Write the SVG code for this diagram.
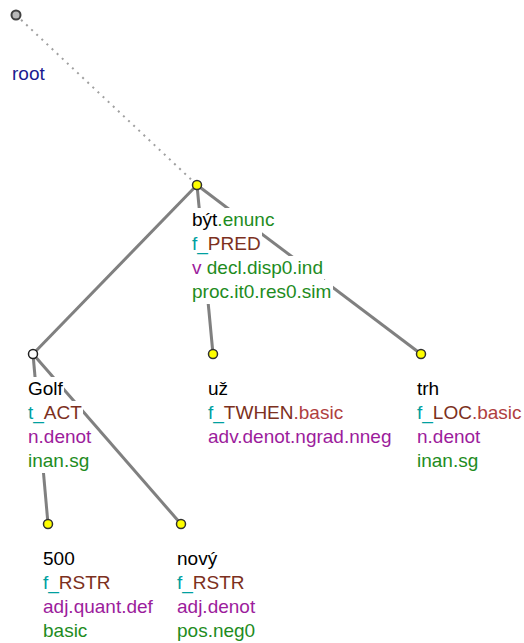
<svg xmlns="http://www.w3.org/2000/svg" width="524" height="643" viewBox="0 0 524 643">
<defs>
<style>
text{font-family:"Liberation Sans",Arial,sans-serif;font-size:19px}
.bg{fill:#ffffff;stroke:none}
.edge{stroke:#808080;stroke-width:3;fill:none}
.dot{stroke:#a0a0a0;stroke-width:2;stroke-dasharray:2 5;fill:none}
.n{fill:#ffff00;stroke:#303030;stroke-width:1.5}
.w{fill:#ffffff;stroke:#202020;stroke-width:1.5}
.r{fill:#b8b8b8;stroke:#404040;stroke-width:2}
.k{fill:#000000}.g{fill:#1e8c1e}.t{fill:#00a0a0}.b{fill:#7c3020}.lb{fill:#b04040}.p{fill:#9c1c9c}.nv{fill:#1a1a90}
</style>
</defs>
<rect width="524" height="643" fill="#ffffff"/>
<g id="connectors">
<line class="dot" x1="16" y1="15" x2="197" y2="185"/>
<line class="edge" x1="197" y1="185" x2="33" y2="354"/>
<line class="edge" x1="197" y1="185" x2="213" y2="354"/>
<line class="edge" x1="197" y1="185" x2="421" y2="354"/>
<line class="edge" x1="33" y1="354" x2="48" y2="524"/>
<line class="edge" x1="33" y1="354" x2="181" y2="524"/>
</g>
<g id="root">
<circle class="r" cx="16" cy="15" r="4.5"/>
<text x="12" y="80" class="nv">root</text>
</g>
<g id="byt">
<circle class="n" cx="197" cy="185" r="4.5"/>
<rect class="bg" x="192" y="208" width="84" height="24"/>
<rect class="bg" x="192" y="232" width="70" height="24"/>
<rect class="bg" x="192" y="256" width="132" height="24"/>
<rect class="bg" x="192" y="280" width="141" height="24"/>
<text x="192" y="226"><tspan class="k">být</tspan><tspan class="g">.enunc</tspan></text>
<text x="192" y="250"><tspan class="t">f_</tspan><tspan class="b">PRED</tspan></text>
<text x="192" y="274"><tspan class="p">v</tspan><tspan class="g"> decl.disp0.ind</tspan></text>
<text x="192" y="298" class="g">proc.it0.res0.sim</text>
</g>
<g id="golf">
<circle class="w" cx="33" cy="354" r="4.5"/>
<rect class="bg" x="28" y="377" width="36" height="24"/>
<rect class="bg" x="28" y="401" width="55" height="24"/>
<rect class="bg" x="28" y="425" width="64" height="24"/>
<rect class="bg" x="28" y="449" width="62" height="24"/>
<text x="28" y="395" class="k">Golf</text>
<text x="28" y="419"><tspan class="t">t_</tspan><tspan class="b">ACT</tspan></text>
<text x="28" y="443" class="p">n.denot</text>
<text x="28" y="467" class="g">inan.sg</text>
</g>
<g id="uz">
<circle class="n" cx="213" cy="354" r="4.5"/>
<text x="208" y="395" class="k">už</text>
<text x="208" y="419"><tspan class="t">f_</tspan><tspan class="b">TWHEN</tspan><tspan class="lb">.basic</tspan></text>
<text x="208" y="443" class="p">adv.denot.ngrad.nneg</text>
</g>
<g id="trh">
<circle class="n" cx="421" cy="354" r="4.5"/>
<text x="417" y="395" class="k">trh</text>
<text x="417" y="419"><tspan class="t">f_</tspan><tspan class="b">LOC</tspan><tspan class="lb">.basic</tspan></text>
<text x="417" y="443" class="p">n.denot</text>
<text x="417" y="467" class="g">inan.sg</text>
</g>
<g id="n500">
<circle class="n" cx="48" cy="524" r="4.5"/>
<text x="43" y="565" class="k">500</text>
<text x="43" y="589"><tspan class="t">f_</tspan><tspan class="b">RSTR</tspan></text>
<text x="43" y="613" class="p">adj.quant.def</text>
<text x="43" y="637" class="g">basic</text>
</g>
<g id="novy">
<circle class="n" cx="181" cy="524" r="4.5"/>
<text x="177" y="565" class="k">nový</text>
<text x="177" y="589"><tspan class="t">f_</tspan><tspan class="b">RSTR</tspan></text>
<text x="177" y="613" class="p">adj.denot</text>
<text x="177" y="637" class="g">pos.neg0</text>
</g>
</svg>
